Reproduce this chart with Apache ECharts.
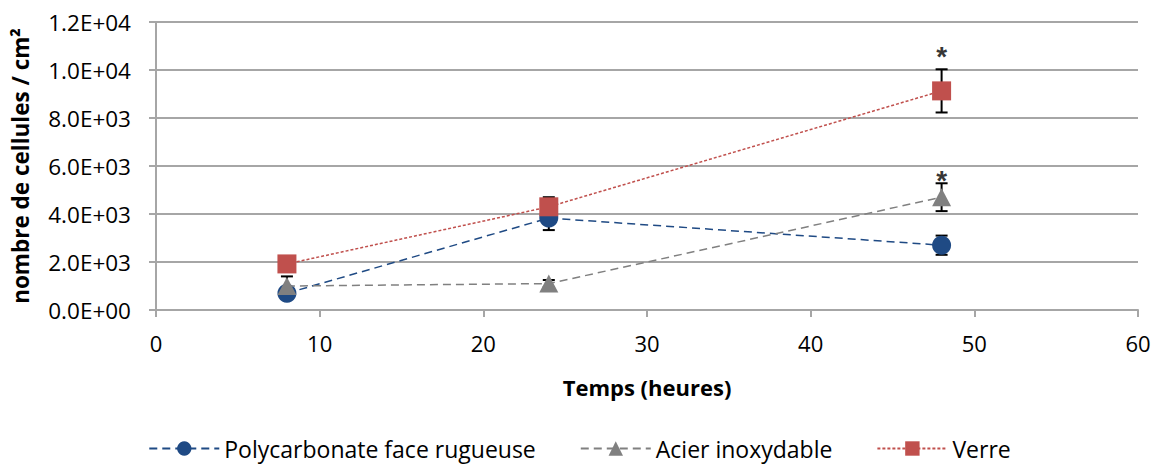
<!DOCTYPE html>
<html>
<head>
    <meta charset="utf-8">
    <title>ECharts</title>
    <script src="https://cdn.jsdelivr.net/npm/echarts@6/dist/echarts.min.js"></script>
</head>
<body style="margin:0">
<div id="main" style="width: 1159px;height:470px;"></div>
<script type="text/javascript">
    // données
    var temps = [8, 24, 48];
    var polycarbonate = [700, 3830, 2700];
    var polycarbonateErr = [150, 500, 400];
    var acier = [1000, 1100, 4700];
    var acierErr = [400, 150, 580];
    var verre = [1920, 4300, 9130];
    var verreErr = [150, 400, 900];
    var etoilesX = [48, 48];
    var etoilesY = [10550, 5400];
    var noms = ['Polycarbonate face rugueuse', 'Acier inoxydable', 'Verre'];
    var couleurs = ['#1F4A84', '#808080', '#C0504D'];

    var myChart = echarts.init(document.getElementById('main'), null, {renderer: 'svg'});

    function paires(ys) {
        return temps.map(function (t, i) { return [t, ys[i]]; });
    }
    function barres(ys, errs) {
        return temps.map(function (t, i) { return [t, ys[i] - errs[i], ys[i] + errs[i]]; });
    }
    function formatExp(v) {
        if (v === 0) return '0.0E+00';
        var e = Math.floor(Math.log10(v));
        var m = v / Math.pow(10, e);
        return m.toFixed(1) + 'E+' + (e < 10 ? '0' + e : e);
    }
    function errorItem(params, api) {
        var x = api.value(0);
        var lo = api.coord([x, api.value(1)]);
        var hi = api.coord([x, api.value(2)]);
        var w = 6;
        var style = {stroke: '#000', lineWidth: 2};
        return {
            type: 'group',
            children: [
                {type: 'line', shape: {x1: lo[0], y1: lo[1], x2: hi[0], y2: hi[1]}, style: style},
                {type: 'line', shape: {x1: lo[0] - w, y1: lo[1], x2: lo[0] + w, y2: lo[1]}, style: style},
                {type: 'line', shape: {x1: hi[0] - w, y1: hi[1], x2: hi[0] + w, y2: hi[1]}, style: style}
            ]
        };
    }

    var valeurs = [polycarbonate, acier, verre];
    var erreurs = [polycarbonateErr, acierErr, verreErr];
    var symboles = ['circle', 'triangle', 'rect'];
    var tirets = [[8, 5], [8, 5], [3, 2]];
    var series = [];
    for (var i = 0; i < 3; i++) {
        series.push({
            type: 'custom',
            renderItem: errorItem,
            encode: {x: 0, y: [1, 2]},
            data: barres(valeurs[i], erreurs[i]),
            z: 1,
            silent: true
        });
    }
    for (var j = 0; j < 3; j++) {
        series.push({
            name: noms[j],
            type: 'line',
            data: paires(valeurs[j]),
            symbol: symboles[j],
            symbolSize: j === 1 ? [19, 18] : 19,
            color: couleurs[j],
            lineStyle: {color: couleurs[j], width: 1.5, type: tirets[j]},
            itemStyle: {color: couleurs[j]},
            z: 3 + j
        });
    }
    series.push({
        type: 'scatter',
        data: etoilesX.map(function (x, i) { return [x, etoilesY[i]]; }),
        symbolSize: 0,
        label: {show: true, position: 'inside', formatter: '*', fontSize: 28, fontWeight: 'bold', color: '#000', fontFamily: 'Liberation Sans'},
        z: 6,
        silent: true
    });

    var option = {
        textStyle: {fontFamily: 'Open Sans'},
        grid: {left: 156, right: 21, top: 22, bottom: 160},
        legend: {
            data: noms,
            bottom: 5,
            left: 'center',
            itemWidth: 70,
            itemHeight: 18,
            itemGap: 44,
            textStyle: {fontSize: 23, color: '#000'}
        },
        xAxis: {
            type: 'value',
            min: 0,
            max: 60,
            interval: 10,
            name: 'Temps (heures)',
            nameLocation: 'middle',
            nameGap: 66,
            nameTextStyle: {fontSize: 22, fontWeight: 'bold', color: '#000'},
            axisLine: {lineStyle: {color: '#A6A6A6', width: 2}},
            axisTick: {show: true, length: 7, lineStyle: {color: '#A6A6A6', width: 2}},
            axisLabel: {fontSize: 22, color: '#000', margin: 22},
            splitLine: {show: false}
        },
        yAxis: {
            type: 'value',
            min: 0,
            max: 12000,
            interval: 2000,
            name: 'nombre de cellules / cm²',
            nameLocation: 'middle',
            nameGap: 124,
            nameTextStyle: {fontSize: 22.5, fontWeight: 'bold', color: '#000'},
            axisLine: {show: true, lineStyle: {color: '#A6A6A6', width: 2}},
            axisTick: {show: true, length: 7, lineStyle: {color: '#A6A6A6', width: 2}},
            axisLabel: {fontSize: 22.5, color: '#000', margin: 25, formatter: formatExp},
            splitLine: {lineStyle: {color: '#A6A6A6', width: 2}}
        },
        series: series
    };

    myChart.setOption(option);
</script>
</body>
</html>
